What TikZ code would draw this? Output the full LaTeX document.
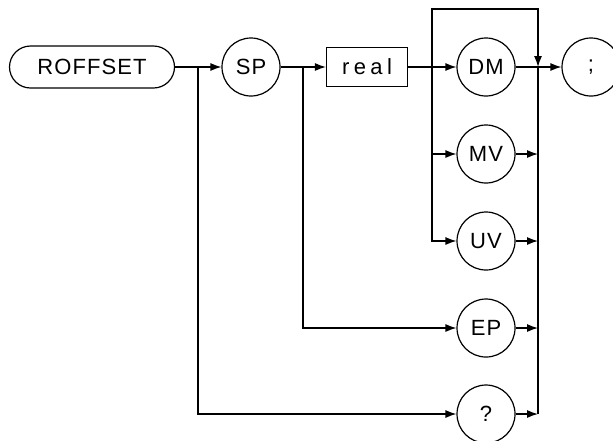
\documentclass[tikz,border=0pt]{standalone}
\usepackage{fontspec}
\setsansfont{Liberation Sans}
\newfontfamily\diagfont[LetterSpace=5]{Liberation Sans}
\newfontfamily\widefont[LetterSpace=20]{Liberation Sans}
\usetikzlibrary{arrows.meta}
\usetikzlibrary{positioning}

\tikzset{
    keybox/.style={draw, rounded corners=10.5pt, minimum width=82.5pt, minimum height=21pt, font=\diagfont\fontsize{11}{12}\selectfont},
    parambox/.style={draw, minimum width=40.5pt, minimum height=19.5pt, font=\widefont\fontsize{11}{12}\selectfont},
    term/.style={draw, circle, minimum size=29pt, inner sep=0pt, font=\diagfont\fontsize{11}{12}\selectfont},
    flow/.style={-{Latex[length=5.5pt,width=4pt]}},
}

\begin{document}
\begin{tikzpicture}[x=0.5pt, y=-0.5pt, line width=0.6pt]
            \useasboundingbox (0,0) rectangle (613,440);

            \node[keybox] (roffset) at (92,67) {ROFFSET};
            \node[term] (sp) at (251,67) {SP};
            \node[parambox] (real) at (367,67) {real};
            \node[term] (dm) at (486,67) {DM};
            \node[term] (mv) at (486,154) {MV};
            \node[term] (uv) at (486,241) {UV};
            \node[term] (ep) at (486,328) {EP};
            \node[term] (query) at (486,414) {?};
            \node[term] (semi) at (591,67) {;};

            \coordinate (jroff) at (198,67);
            \coordinate (jsp) at (303,67);
            \coordinate (jreal) at (432,67);
            \coordinate (jend) at (538,67);

            % main line
            \draw[flow] (roffset.east) -- (sp.west);
            \draw[flow] (sp.east) -- (real.west);
            \draw[flow] (real.east) -- (dm.west);
            \draw (dm.east) -- (jend);
            \draw[flow] (jend) -- (semi.west);

            % bypass loops
            \draw[flow] (jroff) |- (query.west);
            \draw[flow] (jsp) |- (ep.west);
            \draw[flow] (jreal) -- (jreal |- 0,9) -- (jend |- 0,9) -- (jend);
            \draw[flow] (jreal) |- (mv.west);
            \draw[flow] (jreal) |- (uv.west);

            % return to the end line
            \draw (jend) -- (jend |- query);
            \foreach \n in {mv, uv, ep, query}
                \draw[flow] (\n.east) -- (jend |- \n);
        \end{tikzpicture}
\end{document}
